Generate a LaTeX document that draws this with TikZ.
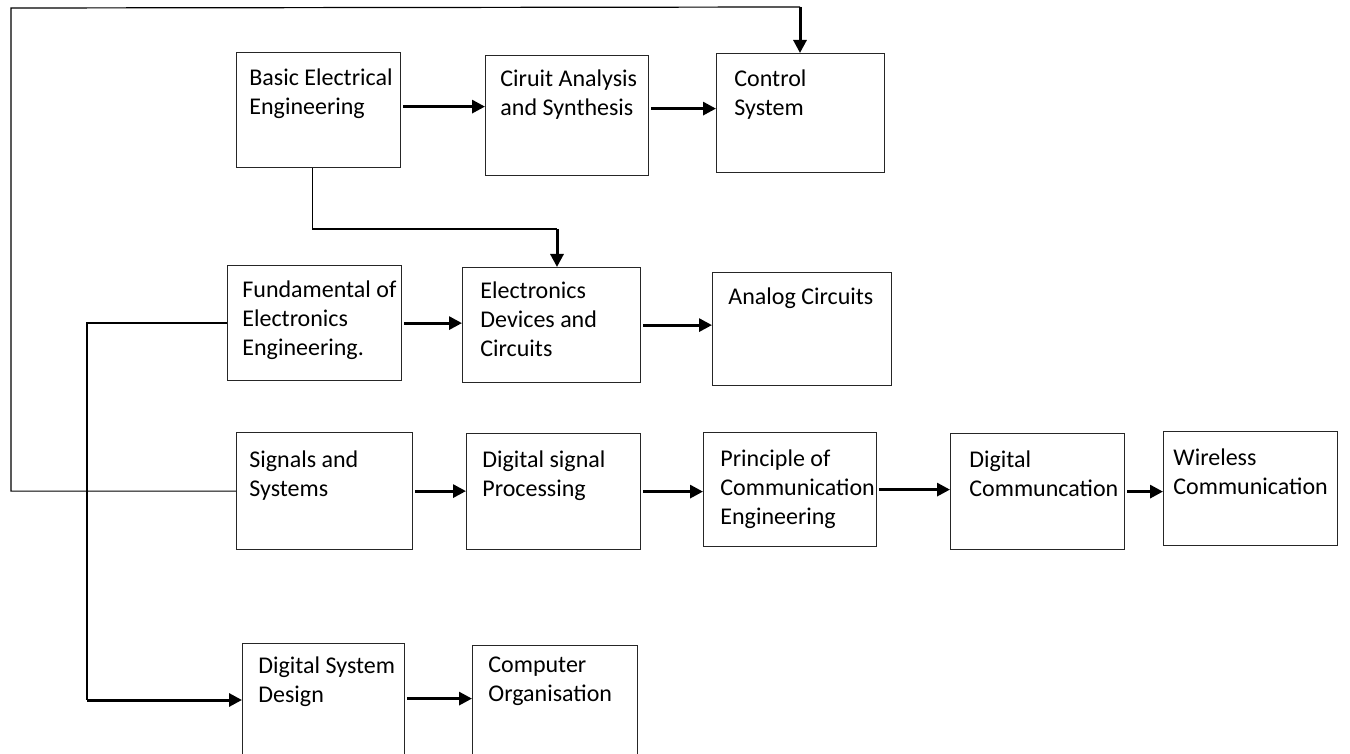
\documentclass[tikz,border=0pt]{standalone}
\usepackage{fontspec}
\setmainfont{Carlito}
\usetikzlibrary{arrows.meta,calc}

\tikzset{
  blk/.style={draw=black!85, line width=0.6pt, anchor=north west, inner sep=0pt},
  lbl/.style={anchor=north west, align=left, inner sep=0pt, font=\fontsize{12}{14.5}\selectfont},
  link/.style={line width=0.6pt},
  flow/.style={line width=1.5pt, -{Triangle[length=6.5pt,width=6.5pt]}},
}

\begin{document}
\begin{tikzpicture}[x=0.5pt,y=-0.5pt]
\useasboundingbox (0,0) rectangle (1350,754);

% row 1
\node[blk, minimum width=82pt, minimum height=57.5pt] (bee) at (236,52) {};
\node[lbl] (bee-t) at ($(bee.north west)+(13,16)$) {Basic Electrical\\Engineering};
\node[blk, minimum width=81.5pt, minimum height=60pt] (cas) at (485,55) {};
\node[lbl] (cas-t) at ($(cas.north west)+(15,14)$) {Ciruit Analysis\\and Synthesis};
\node[blk, minimum width=84pt, minimum height=59.5pt] (cs) at (716,53) {};
\node[lbl] (cs-t) at ($(cs.north west)+(18,16)$) {Control\\System};

% row 2
\node[blk, minimum width=87pt, minimum height=57.5pt] (fee) at (227,265) {};
\node[lbl] (fee-t) at ($(fee.north west)+(15,15)$) {Fundamental of\\Electronics\\Engineering.};
\node[blk, minimum width=89pt, minimum height=57.5pt] (edc) at (462,267) {};
\node[lbl] (edc-t) at ($(edc.north west)+(18,14)$) {Electronics\\Devices and\\Circuits};
\node[blk, minimum width=89.5pt, minimum height=56.5pt] (ac) at (712,272) {};
\node[lbl] (ac-t) at ($(ac.north west)+(16,15)$) {Analog Circuits};

% row 3
\node[blk, minimum width=88pt, minimum height=58.5pt] (ss) at (236,432) {};
\node[lbl] (ss-t) at ($(ss.north west)+(13,18)$) {Signals and\\Systems};
\node[blk, minimum width=87pt, minimum height=58pt] (dsp) at (466,433) {};
\node[lbl] (dsp-t) at ($(dsp.north west)+(16,17)$) {Digital signal\\Processing};
\node[blk, minimum width=86.5pt, minimum height=57pt] (pce) at (703,432) {};
\node[lbl] (pce-t) at ($(pce.north west)+(17,17)$) {Principle of\\Communication\\Engineering};
\node[blk, minimum width=87pt, minimum height=58pt] (dc) at (950,433) {};
\node[lbl] (dc-t) at ($(dc.north west)+(19,17)$) {Digital\\Communcation};
\node[blk, minimum width=87pt, minimum height=57pt] (wc) at (1163,431) {};
\node[lbl] (wc-t) at ($(wc.north west)+(10,17)$) {Wireless\\Communication};

% row 4 (cut at the bottom)
\node[blk, minimum width=81pt, minimum height=60pt] (dsd) at (242,643) {};
\node[lbl] (dsd-t) at ($(dsd.north west)+(16,13)$) {Digital System\\Design};
\node[blk, minimum width=82.5pt, minimum height=60pt] (co) at (472,645) {};
\node[lbl] (co-t) at ($(co.north west)+(16,12)$) {Computer\\Organisation};

% straight arrows
\draw[flow] ([xshift=1pt,yshift=1.75pt]bee.east) -- ([yshift=1.75pt]bee.east -| cas.west);
\draw[flow] ([xshift=1pt,yshift=3.5pt]cas.east) -- ([yshift=3.5pt]cas.east -| cs.west);
\draw[flow] ([xshift=1pt]fee.east) -- (fee.east -| edc.west);
\draw[flow] ([xshift=1pt]edc.east) -- (edc.east -| ac.west);
\draw[flow] ([xshift=1pt]ss.east) -- (ss.east -| dsp.west);
\draw[flow] ([xshift=1pt]dsp.east) -- (dsp.east -| pce.west);
\draw[flow] ([xshift=1pt]pce.east) -- (pce.east -| dc.west);
\draw[flow] ([xshift=1pt]dc.east) -- (dc.east -| wc.west);
\draw[flow] ([xshift=1pt,yshift=2.5pt]dsd.east) -- ([yshift=2.5pt]dsd.east -| co.west);

% Basic Electrical -> Electronics Devices
\coordinate (be2) at (557,229);
\draw[link] ([xshift=-3pt]bee.south) |- (be2);
\draw[flow] (be2) -- (be2 |- edc.north);

% Signals and Systems -> Control System
\coordinate (fbl) at (11,8);
\coordinate (fbr) at (800,7);
\draw[link] (ss.west) -- (ss.west -| fbl) -- (fbl) -- (fbr);
\draw[flow] (fbr) -- (fbr |- cs.north);

% Fundamental of Electronics -> Digital System Design
\coordinate (fd) at (87,700);
\draw[link] (fee.west) -| (fd);
\draw[flow] (fd) -- (fd -| dsd.west);
\end{tikzpicture}
\end{document}
